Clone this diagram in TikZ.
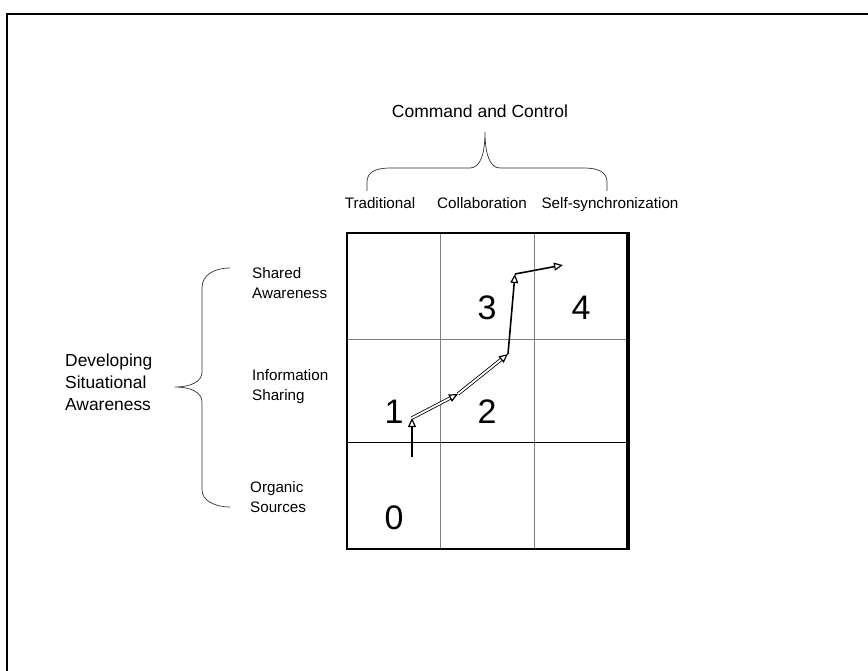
\documentclass[tikz,border=0pt]{standalone}
\usepackage{fontspec}
\setmainfont{Liberation Sans}
\usetikzlibrary{arrows.meta}
\tikzset{
  lab/.style={inner sep=0pt,align=left,font=\fontsize{15.2}{20}\selectfont},
  biglab/.style={inner sep=0pt,align=left,font=\fontsize{17.4}{22}\selectfont},
  stage/.style={inner sep=0pt,font=\fontsize{34}{40}\selectfont},
  brace/.style={draw=black!80,line width=0.7},
  hop/.style={line width=2,-{Triangle[open,fill=white,length=9,width=8,line width=1.2]}},
  hophollow/.style={draw=black,double=white,double distance=1.8,line width=0.8,
    -{Triangle[open,fill=white,length=9,width=8,line width=1.2]}},
}

\begin{document}
\begin{tikzpicture}[x=1pt,y=-1pt]
    \useasboundingbox (0,0) rectangle (868,671);
    % page frame
    \draw[line width=2] (7,671) -- (7,14) -- (868,14);
    % 3x3 grid
    \foreach \x in {440,534} {
      \draw[gray,line width=1] (\x,233) -- (\x,549);
    }
    \draw[gray,line width=1] (347,339) -- (628,339);
    \draw[line width=0.9] (347,442) -- (628,442);
    \draw[line width=2] (347,233) rectangle (628,549);
    \draw[line width=4] (628,232) -- (628,550);
    % stages
    \node[stage] (lvl0) at (394,518) {0};
    \node[stage] (lvl1) at (394,412) {1};
    \node[stage] (lvl2) at (487,412) {2};
    \node[stage] (lvl3) at (487,308) {3};
    \node[stage] (lvl4) at (581,308) {4};
    % C2 axis
    \node[inner sep=0pt,font=\fontsize{17.5}{22}\selectfont] (ctwo) at (480,111) {Command and Control};
    \draw[brace] (367,191) -- (367,182) .. controls (367,172) and (376,168) .. (390,168)
      -- (470,168) .. controls (481,168) and (485,152) .. (485,132)
      .. controls (485,152) and (489,168) .. (500,168)
      -- (584,168) .. controls (598,168) and (607,172) .. (607,182) -- (607,191);
    \node[lab,anchor=base] (trad) at (380,209) {Traditional};
    \node[lab,anchor=base] (collab) at (482,209) {Collaboration};
    \node[lab,anchor=base] (selfsync) at (610,209) {Self-synchronization};
    % awareness axis
    \node[biglab,anchor=west] (dsa) at (65,382) {Developing\\Situational\\Awareness};
    \draw[brace] (230,268) .. controls (214,268) and (202,275) .. (202,288)
      -- (202,372) .. controls (202,382) and (190,387) .. (175,387)
      .. controls (190,387) and (202,392) .. (202,402)
      -- (202,490) .. controls (202,500) and (214,507) .. (230,507);
    \node[lab,anchor=west] (shared) at (252,283) {Shared\\Awareness};
    \node[lab,anchor=west] (infoshare) at (252,386.5) {Information\\Sharing};
    \node[lab,anchor=west] (organic) at (250,497.5) {Organic\\Sources};
    % path through the stages
    \coordinate (p0) at (412,457);
    \coordinate (p1) at (412,418);
    \coordinate (p2) at (458,394);
    \coordinate (p3) at (508,354);
    \coordinate (p4) at (515,274);
    \coordinate (p5) at (563,265);
    \draw[hop] (p0) -- (p1);
    \draw[hophollow] (p1) -- (p2);
    \draw[hophollow] (p2) -- (p3);
    \draw[hop,line width=1.6] (p3) -- (p4);
    \draw[hop,line width=1.6] (p4) -- (p5);
\end{tikzpicture}
\end{document}
